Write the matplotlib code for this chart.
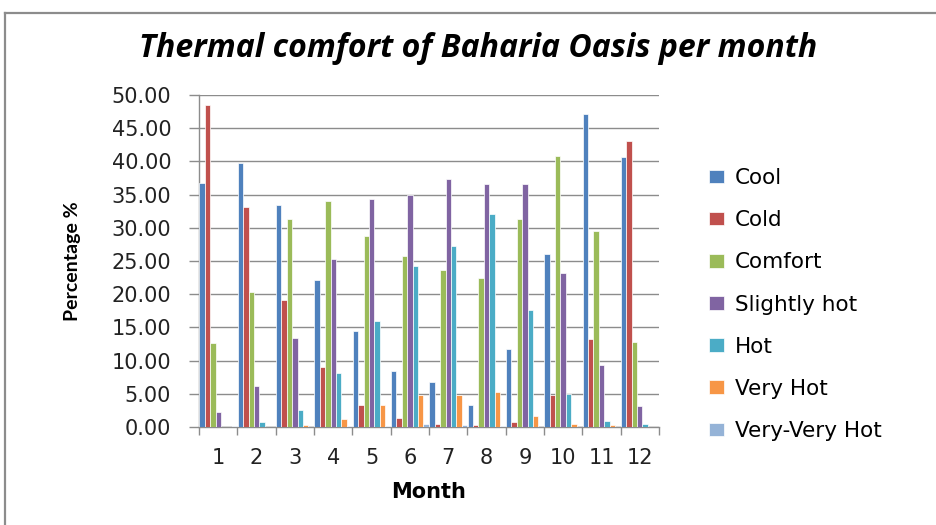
import matplotlib
matplotlib.use("Agg")
import matplotlib.pyplot as plt
import numpy as np
from matplotlib.lines import Line2D

plt.rcParams["font.family"] = "DejaVu Sans"

MONTHS = [1, 2, 3, 4, 5, 6, 7, 8, 9, 10, 11, 12]
SERIES = ["Cool", "Cold", "Comfort", "Slightly hot", "Hot", "Very Hot", "Very-Very Hot"]
COLORS = ["#4F81BD", "#C0504D", "#9BBB59", "#8064A2", "#4BACC6", "#F79646", "#95B3D7"]

cool = [36.8, 39.8, 33.4, 22.1, 14.4, 8.4, 6.8, 3.3, 11.8, 26.0, 47.2, 40.6]
cold = [48.5, 33.1, 19.2, 9.1, 3.3, 1.4, 0.4, 0.25, 0.7, 4.8, 13.2, 43.0]
comfort = [12.7, 20.3, 31.3, 34.1, 28.8, 25.8, 23.6, 22.4, 31.4, 40.8, 29.5, 12.8]
slightly_hot = [2.3, 6.1, 13.4, 25.3, 34.4, 35.0, 37.3, 36.6, 36.6, 23.2, 9.3, 3.1]
hot = [0.0, 0.75, 2.6, 8.1, 15.9, 24.2, 27.2, 32.1, 17.6, 5.0, 0.85, 0.4]
very_hot = [0.0, 0.0, 0.25, 1.25, 3.3, 4.8, 4.8, 5.2, 1.7, 0.4, 0.25, 0.0]
very_very_hot = [0.2, 0.0, 0.0, 0.2, 0.2, 0.4, 0.25, 0.2, 0.0, 0.0, 0.0, 0.0]

VALUES = [cool, cold, comfort, slightly_hot, hot, very_hot, very_very_hot]
YTICKS = np.arange(0, 50.1, 5)

fig = plt.figure(figsize=(9.37, 5.25), dpi=100)
ax = fig.add_axes([0.2124, 0.1867, 0.4909, 0.6323])

x = np.arange(1, len(MONTHS) + 1)
n = len(SERIES)
step = 0.975 / n
for j, (name, vals, col) in enumerate(zip(SERIES, VALUES, COLORS)):
    offs = (j - (n - 1) / 2) * step
    ax.bar(x + offs, vals, width=step, color=col, edgecolor="white",
           linewidth=0.5, label=name, zorder=3)

ax.set_xlim(0.5, 12.5)
ax.set_ylim(0, 50)
ax.set_yticks(YTICKS)
ax.set_yticklabels([f"{v:.2f}" for v in YTICKS], fontsize=15, color="#222222")
ax.set_xticks(np.arange(0.5, 12.6, 1))
ax.set_xticklabels([])
ax.set_xticks(x, minor=True)
ax.set_xticklabels([str(m) for m in MONTHS], minor=True, fontsize=15, color="#222222")
ax.tick_params(axis="x", which="major", length=6, color="#8c8c8c", width=1)
ax.tick_params(axis="x", which="minor", length=0, pad=15)
ax.tick_params(axis="y", length=7, color="#8c8c8c", width=1, pad=13)

ax.grid(axis="y", color="#8c8c8c", linewidth=1, zorder=0)
ax.set_axisbelow(True)
for s in ["top", "right"]:
    ax.spines[s].set_visible(False)
for s in ["left", "bottom"]:
    ax.spines[s].set_color("#8c8c8c")
    ax.spines[s].set_linewidth(1)

ax.set_xlabel("Month", fontsize=15, fontweight="bold", labelpad=10)
ax.set_ylabel("Percentage %", fontsize=14, fontweight="bold", family="Lato", labelpad=22)

fig.text(0.51, 0.908, "Thermal comfort of Baharia Oasis per month", ha="center", va="center",
         fontsize=23, fontweight="bold", style="italic", family="Open Sans")

fig.legend(loc="upper left", bbox_to_anchor=(0.757, 0.68), frameon=False, fontsize=15.5,
           handlelength=0.7, handleheight=0.6, handletextpad=0.5, labelspacing=1.03,
           borderaxespad=0, borderpad=0)

# chart border (top and left edges visible in the reference)
fig.add_artist(Line2D([5 / 937, 1.0], [1 - 13 / 525, 1 - 13 / 525], transform=fig.transFigure,
                      color="#8c8c8c", linewidth=1.6))
fig.add_artist(Line2D([5 / 937, 5 / 937], [0, 1 - 13 / 525], transform=fig.transFigure,
                      color="#8c8c8c", linewidth=1.6))

fig.savefig("out.png", dpi=100)
